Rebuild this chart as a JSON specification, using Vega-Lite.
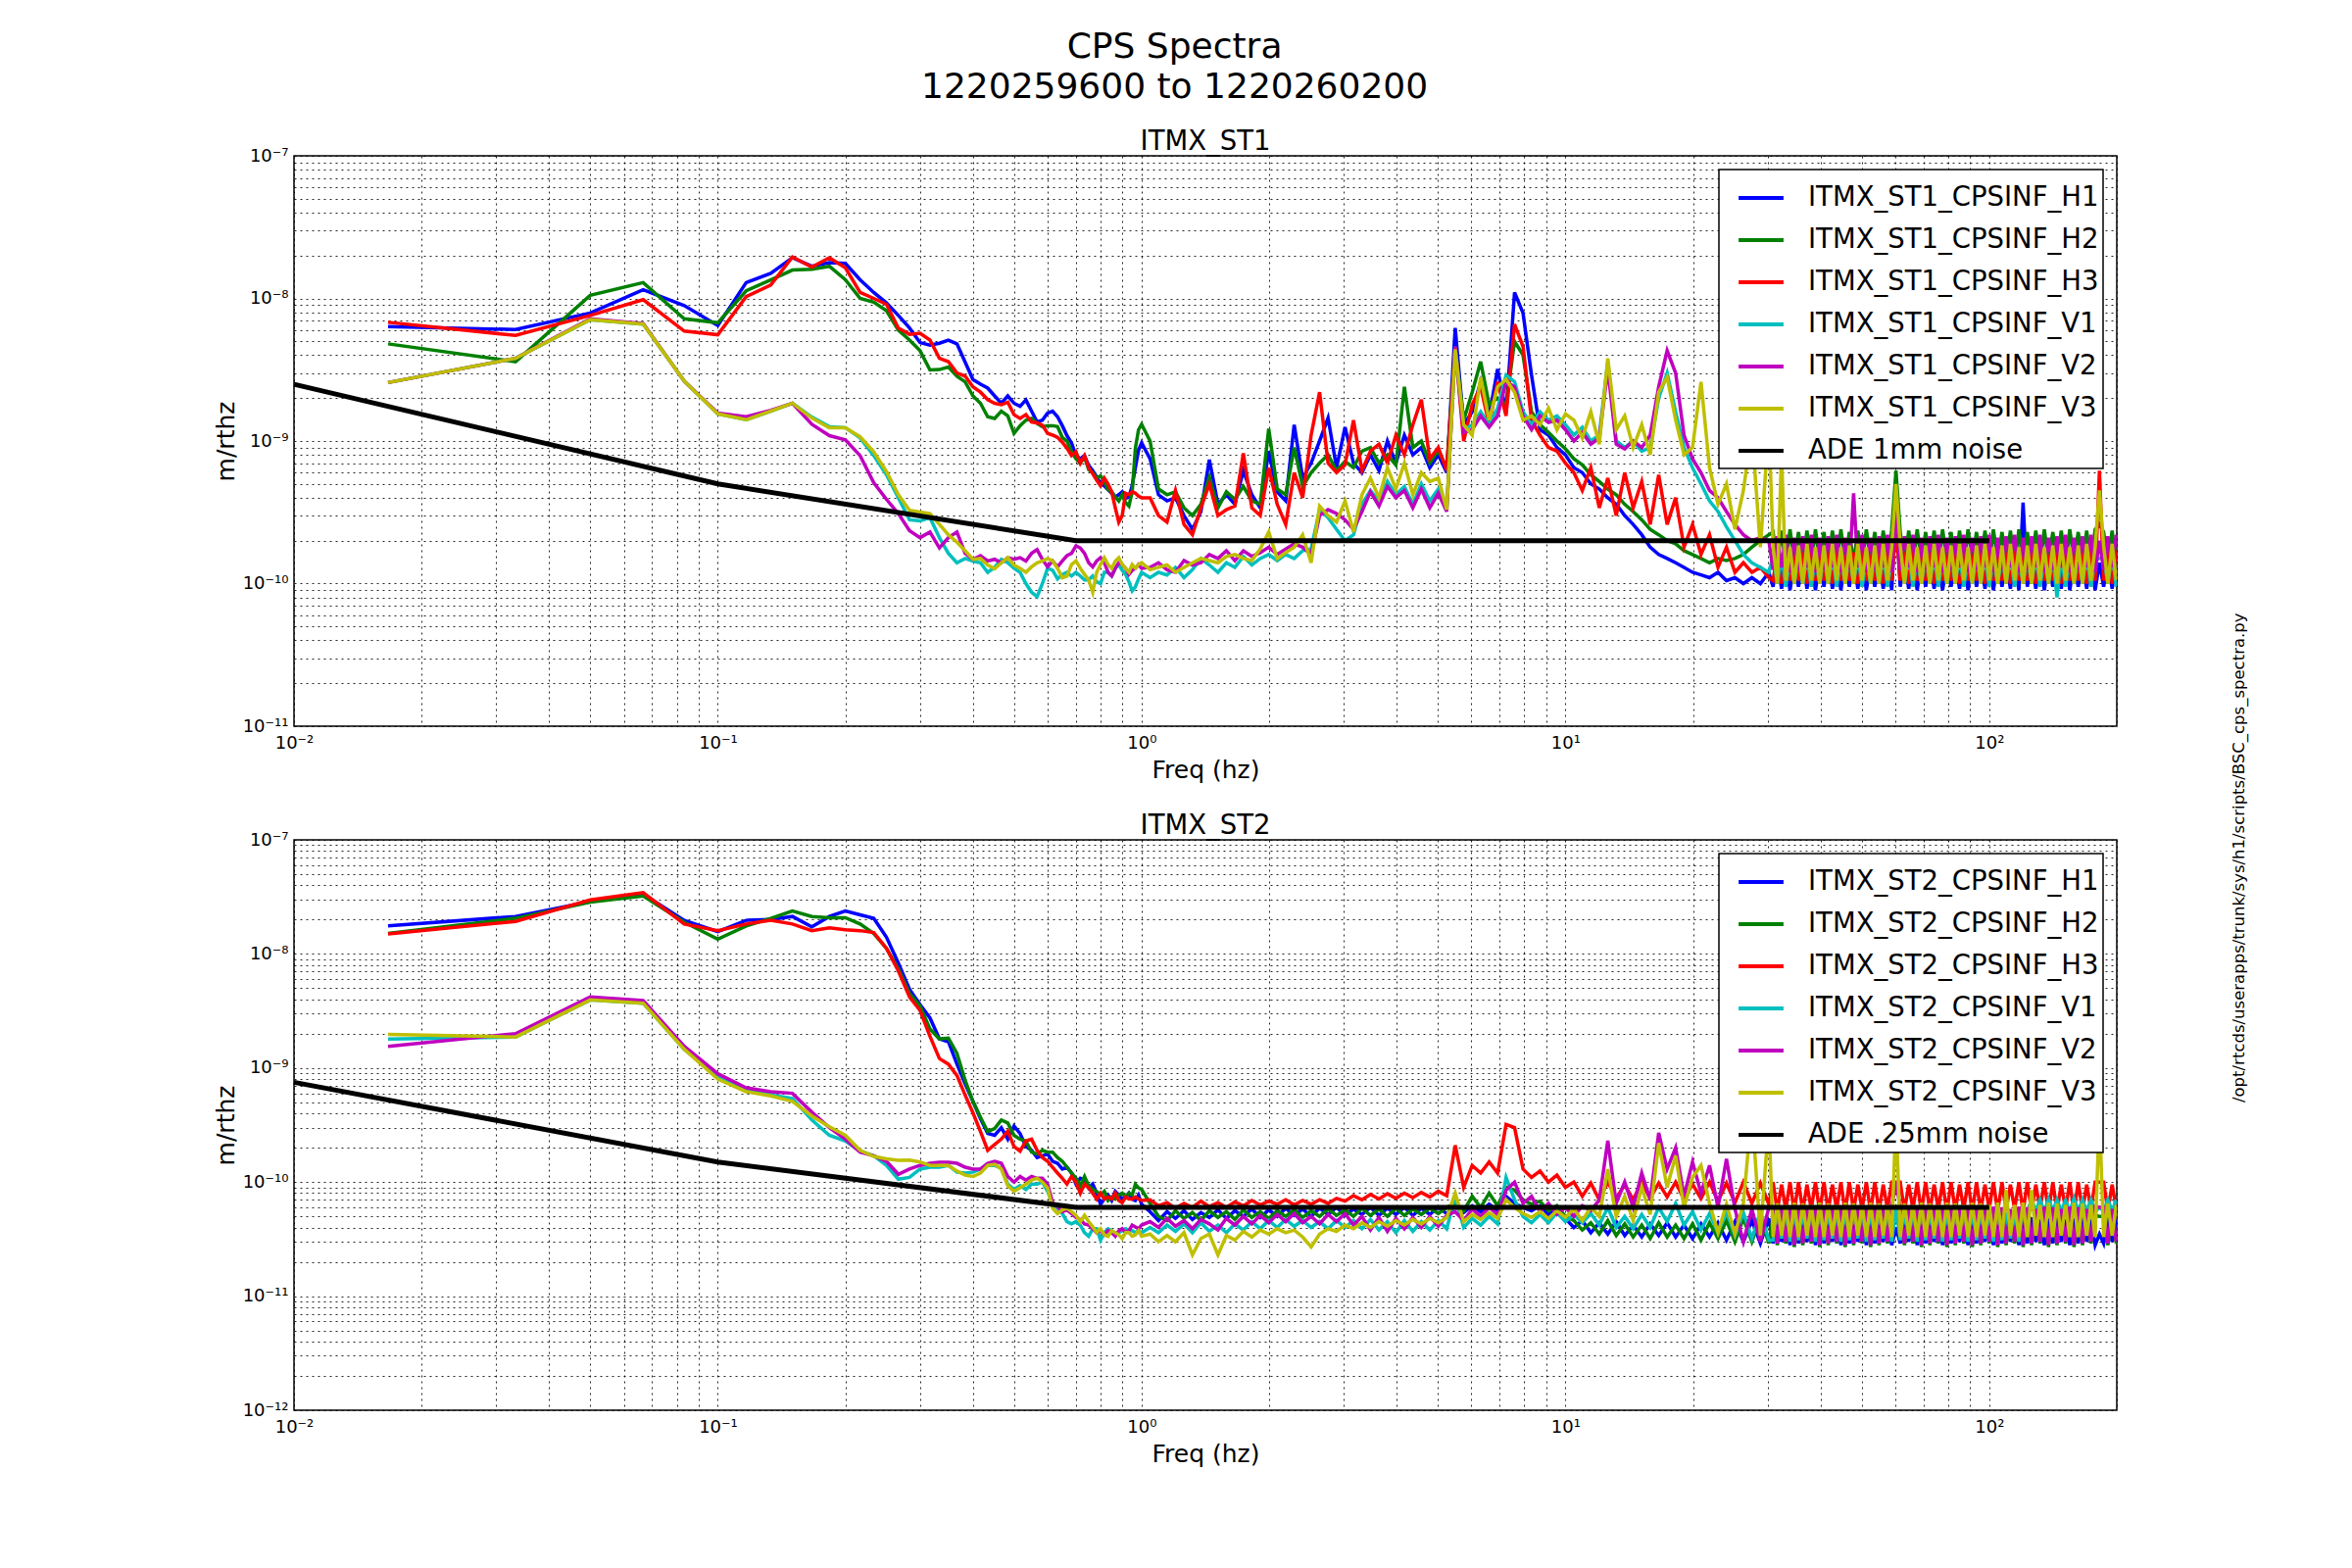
{
  "$schema": "https://vega.github.io/schema/vega-lite/v6.json",
  "background": "white",
  "padding": {"left": 217, "top": 29, "right": 10, "bottom": 10},
  "title": {
    "text": ["CPS Spectra", "1220259600 to 1220260200"],
    "fontSize": 36, "font": "DejaVu Sans", "fontWeight": "normal",
    "anchor": "middle", "lineHeight": 41, "offset": 22, "dx": -57, "color": "black"
  },
  "datasets": {
    "st1": [
      {"f":0.01667,"H1":6.35e-9,"H2":4.8e-9,"H3":6.8e-9,"V1":2.57e-9,"V2":2.57e-9,"V3":2.57e-9},
      {"f":0.03333,"H1":6.05e-9,"H2":3.6e-9,"H3":5.5e-9,"V1":3.8e-9,"V2":3.8e-9,"V3":3.8e-9},
      {"f":0.05,"H1":7.9e-9,"H2":1.05e-8,"H3":7.6e-9,"V1":7.1e-9,"V2":7.2e-9,"V3":7.1e-9},
      {"f":0.06667,"H1":1.15e-8,"H2":1.29e-8,"H3":9.8e-9,"V1":6.6e-9,"V2":6.65e-9,"V3":6.6e-9},
      {"f":0.08333,"H1":8.9e-9,"H2":7.2e-9,"H3":5.9e-9,"V1":2.63e-9,"V2":2.63e-9,"V3":2.63e-9},
      {"f":0.1,"H1":6.45e-9,"H2":6.75e-9,"H3":5.56e-9,"V1":1.55e-9,"V2":1.57e-9,"V3":1.55e-9},
      {"f":0.11667,"H1":1.29e-8,"H2":1.13e-8,"H3":1.03e-8,"V1":1.41e-9,"V2":1.48e-9,"V3":1.41e-9},
      {"f":0.13333,"H1":1.5e-8,"H2":1.35e-8,"H3":1.24e-8,"V1":1.62e-9,"V2":1.64e-9,"V3":1.62e-9},
      {"f":0.15,"H1":1.93e-8,"H2":1.58e-8,"H3":1.95e-8,"V1":1.84e-9,"V2":1.84e-9,"V3":1.84e-9},
      {"f":0.16667,"H1":1.68e-8,"H2":1.6e-8,"H3":1.66e-8,"V1":1.47e-9,"V2":1.31e-9,"V3":1.45e-9},
      {"f":0.18333,"H1":1.78e-8,"H2":1.68e-8,"H3":1.93e-8,"V1":1.26e-9,"V2":1.09e-9,"V3":1.24e-9},
      {"f":0.2,"H1":1.76e-8,"H2":1.35e-8,"H3":1.64e-8,"V1":1.24e-9,"V2":1.02e-9,"V3":1.24e-9},
      {"f":0.21667,"H1":1.35e-8,"H2":1.0e-8,"H3":1.1e-8,"V1":1.05e-9,"V2":7.9e-10,"V3":1.07e-9},
      {"f":0.23333,"H1":1.1e-8,"H2":9.4e-9,"H3":1.0e-8,"V1":7.9e-10,"V2":5.1e-10,"V3":8.4e-10},
      {"f":0.25,"H1":9.3e-9,"H2":8.2e-9,"H3":9.1e-9,"V1":5.8e-10,"V2":3.9e-10,"V3":6.1e-10},
      {"f":0.26667,"H1":7.6e-9,"H2":6.0e-9,"H3":6.2e-9,"V1":4.0e-10,"V2":3.1e-10,"V3":4.2e-10},
      {"f":0.28333,"H1":6.2e-9,"H2":5.1e-9,"H3":5.6e-9,"V1":2.8e-10,"V2":2.35e-10,"V3":3.27e-10},
      {"f":0.3,"H1":4.9e-9,"H2":4.3e-9,"H3":5.7e-9,"V1":2.75e-10,"V2":2.1e-10,"V3":3.18e-10},
      {"f":0.31667,"H1":4.7e-9,"H2":3.15e-9,"H3":5.1e-9,"V1":2.9e-10,"V2":2.3e-10,"V3":3.1e-10},
      {"f":0.33333,"H1":4.85e-9,"H2":3.17e-9,"H3":3.8e-9,"V1":2.1e-10,"V2":1.78e-10,"V3":2.6e-10},
      {"f":0.35,"H1":5.1e-9,"H2":3.3e-9,"H3":3.6e-9,"V1":1.63e-10,"V2":2.1e-10,"V3":2.2e-10},
      {"f":0.36667,"H1":4.8e-9,"H2":2.85e-9,"H3":3.0e-9,"V1":1.4e-10,"V2":2.3e-10,"V3":1.95e-10},
      {"f":0.38333,"H1":3.57e-9,"H2":2.6e-9,"H3":2.85e-9,"V1":1.5e-10,"V2":1.63e-10,"V3":1.7e-10},
      {"f":0.4,"H1":2.7e-9,"H2":2.07e-9,"H3":2.4e-9,"V1":1.44e-10,"V2":1.48e-10,"V3":1.48e-10},
      {"f":0.41667,"H1":2.5e-9,"H2":1.84e-9,"H3":2.2e-9,"V1":1.4e-10,"V2":1.57e-10,"V3":1.5e-10},
      {"f":0.43333,"H1":2.35e-9,"H2":1.48e-9,"H3":1.95e-9,"V1":1.2e-10,"V2":1.44e-10,"V3":1.35e-10},
      {"f":0.45,"H1":2.07e-9,"H2":1.44e-9,"H3":1.84e-9,"V1":1.3e-10,"V2":1.48e-10,"V3":1.27e-10},
      {"f":0.46667,"H1":1.84e-9,"H2":1.62e-9,"H3":1.8e-9,"V1":1.48e-10,"V2":1.4e-10,"V3":1.4e-10},
      {"f":0.48333,"H1":2.07e-9,"H2":1.5e-9,"H3":1.87e-9,"V1":1.4e-10,"V2":1.52e-10,"V3":1.52e-10},
      {"f":0.5,"H1":1.84e-9,"H2":1.13e-9,"H3":1.53e-9,"V1":1.28e-10,"V2":1.48e-10,"V3":1.35e-10},
      {"f":0.51667,"H1":1.75e-9,"H2":1.28e-9,"H3":1.44e-9,"V1":1.2e-10,"V2":1.52e-10,"V3":1.28e-10},
      {"f":0.53333,"H1":1.94e-9,"H2":1.4e-9,"H3":1.53e-9,"V1":1.0e-10,"V2":1.44e-10,"V3":1.2e-10},
      {"f":0.55,"H1":1.62e-9,"H2":1.44e-9,"H3":1.36e-9,"V1":8.7e-11,"V2":1.63e-10,"V3":1.31e-10},
      {"f":0.56667,"H1":1.36e-9,"H2":1.33e-9,"H3":1.34e-9,"V1":8.1e-11,"V2":1.73e-10,"V3":1.4e-10},
      {"f":0.58333,"H1":1.4e-9,"H2":1.26e-9,"H3":1.29e-9,"V1":1.0e-10,"V2":1.48e-10,"V3":1.44e-10},
      {"f":0.6,"H1":1.57e-9,"H2":1.28e-9,"H3":1.13e-9,"V1":1.28e-10,"V2":1.31e-10,"V3":1.5e-10},
      {"f":0.61667,"H1":1.62e-9,"H2":1.28e-9,"H3":1.1e-9,"V1":1.24e-10,"V2":1.44e-10,"V3":1.44e-10},
      {"f":0.63333,"H1":1.48e-9,"H2":1.26e-9,"H3":1.06e-9,"V1":1.08e-10,"V2":1.31e-10,"V3":1.28e-10},
      {"f":0.65,"H1":1.28e-9,"H2":1.06e-9,"H3":9.8e-10,"V1":1.16e-10,"V2":1.44e-10,"V3":1.1e-10},
      {"f":0.66667,"H1":1.09e-9,"H2":1.0e-9,"H3":8.9e-10,"V1":1.2e-10,"V2":1.57e-10,"V3":1.13e-10},
      {"f":0.68333,"H1":9.7e-10,"H2":8.4e-10,"H3":7.9e-10,"V1":1.13e-10,"V2":1.63e-10,"V3":1.36e-10},
      {"f":0.7,"H1":7.9e-10,"H2":7.5e-10,"H3":8.4e-10,"V1":1.2e-10,"V2":1.84e-10,"V3":1.44e-10},
      {"f":0.71667,"H1":7.5e-10,"H2":7.0e-10,"H3":7.0e-10,"V1":1.13e-10,"V2":1.78e-10,"V3":1.28e-10},
      {"f":0.73333,"H1":7.9e-10,"H2":7.7e-10,"H3":7.9e-10,"V1":1.06e-10,"V2":1.63e-10,"V3":1.16e-10},
      {"f":0.75,"H1":6.75e-10,"H2":6.3e-10,"H3":6.5e-10,"V1":1.06e-10,"V2":1.4e-10,"V3":1.06e-10},
      {"f":0.76667,"H1":6.2e-10,"H2":6.0e-10,"H3":5.9e-10,"V1":1.13e-10,"V2":1.31e-10,"V3":8.7e-11},
      {"f":0.78333,"H1":5.6e-10,"H2":5.5e-10,"H3":5.3e-10,"V1":1.03e-10,"V2":1.44e-10,"V3":1.2e-10},
      {"f":0.8,"H1":5.0e-10,"H2":5.7e-10,"H3":4.85e-10,"V1":1.0e-10,"V2":1.52e-10,"V3":1.36e-10},
      {"f":0.81667,"H1":4.85e-10,"H2":5.2e-10,"H3":5.5e-10,"V1":1.2e-10,"V2":1.4e-10,"V3":1.52e-10},
      {"f":0.83333,"H1":4.55e-10,"H2":4.55e-10,"H3":5.0e-10,"V1":1.2e-10,"V2":1.2e-10,"V3":1.36e-10},
      {"f":0.85,"H1":4.3e-10,"H2":4.4e-10,"H3":4.4e-10,"V1":1.13e-10,"V2":1.13e-10,"V3":1.28e-10},
      {"f":0.86667,"H1":4.05e-10,"H2":4.05e-10,"H3":3.4e-10,"V1":1.28e-10,"V2":1.28e-10,"V3":1.44e-10},
      {"f":0.88333,"H1":4.2e-10,"H2":3.8e-10,"H3":2.7e-10,"V1":1.36e-10,"V2":1.4e-10,"V3":1.52e-10},
      {"f":0.9,"H1":4.4e-10,"H2":4.2e-10,"H3":3.0e-10,"V1":1.24e-10,"V2":1.36e-10,"V3":1.36e-10},
      {"f":0.91667,"H1":3.95e-10,"H2":3.7e-10,"H3":4.3e-10,"V1":1.16e-10,"V2":1.28e-10,"V3":1.28e-10},
      {"f":0.93333,"H1":4.05e-10,"H2":3.5e-10,"H3":4.2e-10,"V1":1.03e-10,"V2":1.16e-10,"V3":1.2e-10},
      {"f":0.95,"H1":4.85e-10,"H2":4.4e-10,"H3":4.4e-10,"V1":8.9e-11,"V2":1.24e-10,"V3":1.36e-10},
      {"f":0.96667,"H1":6.5e-10,"H2":8.9e-10,"H3":4.3e-10,"V1":9.5e-11,"V2":1.28e-10,"V3":1.28e-10},
      {"f":0.98333,"H1":8.6e-10,"H2":1.2e-9,"H3":4.1e-10,"V1":1.08e-10,"V2":1.36e-10,"V3":1.36e-10},
      {"f":1.0,"H1":9.7e-10,"H2":1.31e-9,"H3":4.0e-10,"V1":1.2e-10,"V2":1.28e-10,"V3":1.4e-10},
      {"f":1.047,"H1":7.5e-10,"H2":1.0e-9,"H3":4.0e-10,"V1":1.1e-10,"V2":1.3e-10,"V3":1.25e-10},
      {"f":1.096,"H1":4.2e-10,"H2":4.6e-10,"H3":3.0e-10,"V1":1.2e-10,"V2":1.4e-10,"V3":1.3e-10},
      {"f":1.148,"H1":3.8e-10,"H2":4.2e-10,"H3":2.7e-10,"V1":1.15e-10,"V2":1.25e-10,"V3":1.35e-10},
      {"f":1.202,"H1":4.0e-10,"H2":4.4e-10,"H3":4.5e-10,"V1":1.3e-10,"V2":1.2e-10,"V3":1.2e-10},
      {"f":1.259,"H1":3.0e-10,"H2":3.4e-10,"H3":2.6e-10,"V1":1.1e-10,"V2":1.45e-10,"V3":1.3e-10},
      {"f":1.318,"H1":2.4e-10,"H2":3.0e-10,"H3":2.2e-10,"V1":1.25e-10,"V2":1.35e-10,"V3":1.4e-10},
      {"f":1.38,"H1":3.2e-10,"H2":3.6e-10,"H3":3.4e-10,"V1":1.5e-10,"V2":1.4e-10,"V3":1.5e-10},
      {"f":1.445,"H1":7.4e-10,"H2":5.6e-10,"H3":5.0e-10,"V1":1.35e-10,"V2":1.6e-10,"V3":1.45e-10},
      {"f":1.514,"H1":3.6e-10,"H2":3.4e-10,"H3":3.0e-10,"V1":1.2e-10,"V2":1.5e-10,"V3":1.4e-10},
      {"f":1.585,"H1":4.2e-10,"H2":4.4e-10,"H3":3.3e-10,"V1":1.4e-10,"V2":1.7e-10,"V3":1.55e-10},
      {"f":1.66,"H1":3.6e-10,"H2":3.9e-10,"H3":3.5e-10,"V1":1.3e-10,"V2":1.45e-10,"V3":1.6e-10},
      {"f":1.738,"H1":6.2e-10,"H2":4.8e-10,"H3":8.2e-10,"V1":1.55e-10,"V2":1.7e-10,"V3":1.5e-10},
      {"f":1.82,"H1":4.2e-10,"H2":3.8e-10,"H3":3.4e-10,"V1":1.35e-10,"V2":1.55e-10,"V3":1.45e-10},
      {"f":1.905,"H1":3.4e-10,"H2":3.6e-10,"H3":3.0e-10,"V1":1.5e-10,"V2":1.65e-10,"V3":1.75e-10},
      {"f":1.995,"H1":8.5e-10,"H2":1.22e-9,"H3":6.5e-10,"V1":1.6e-10,"V2":1.8e-10,"V3":2.3e-10},
      {"f":2.089,"H1":4.4e-10,"H2":4.6e-10,"H3":3.6e-10,"V1":1.45e-10,"V2":1.6e-10,"V3":1.5e-10},
      {"f":2.188,"H1":3.8e-10,"H2":4.2e-10,"H3":2.6e-10,"V1":1.6e-10,"V2":1.75e-10,"V3":1.65e-10},
      {"f":2.291,"H1":1.3e-9,"H2":9.0e-10,"H3":6.0e-10,"V1":1.5e-10,"V2":1.9e-10,"V3":1.8e-10},
      {"f":2.399,"H1":5.5e-10,"H2":4.8e-10,"H3":4.0e-10,"V1":1.7e-10,"V2":1.8e-10,"V3":2.2e-10},
      {"f":2.512,"H1":7.0e-10,"H2":6.0e-10,"H3":1.1e-9,"V1":1.75e-10,"V2":1.6e-10,"V3":1.4e-10},
      {"f":2.63,"H1":1.0e-9,"H2":7.0e-10,"H3":2.2e-9,"V1":3.3e-10,"V2":3.0e-10,"V3":3.5e-10},
      {"f":2.754,"H1":1.45e-9,"H2":8.0e-10,"H3":7.0e-10,"V1":2.9e-10,"V2":3.3e-10,"V3":3.0e-10},
      {"f":2.884,"H1":6.5e-10,"H2":6.2e-10,"H3":6.0e-10,"V1":2.4e-10,"V2":3.1e-10,"V3":2.7e-10},
      {"f":3.02,"H1":1.25e-9,"H2":7.2e-10,"H3":6.8e-10,"V1":2.0e-10,"V2":2.8e-10,"V3":3.8e-10},
      {"f":3.162,"H1":7.0e-10,"H2":6.5e-10,"H3":1.4e-9,"V1":2.2e-10,"V2":2.4e-10,"V3":2.3e-10},
      {"f":3.311,"H1":6.0e-10,"H2":8.5e-10,"H3":6.2e-10,"V1":3.6e-10,"V2":3.2e-10,"V3":4.2e-10},
      {"f":3.467,"H1":8.0e-10,"H2":9.0e-10,"H3":8.5e-10,"V1":4.5e-10,"V2":4.4e-10,"V3":5.5e-10},
      {"f":3.631,"H1":6.2e-10,"H2":7.0e-10,"H3":9.5e-10,"V1":3.8e-10,"V2":3.5e-10,"V3":4.0e-10},
      {"f":3.802,"H1":1.0e-9,"H2":8.0e-10,"H3":7.0e-10,"V1":5.2e-10,"V2":4.8e-10,"V3":6.5e-10},
      {"f":3.981,"H1":7.0e-10,"H2":6.8e-10,"H3":1.1e-9,"V1":4.2e-10,"V2":4.0e-10,"V3":4.6e-10},
      {"f":4.169,"H1":1.1e-9,"H2":2.4e-9,"H3":8.0e-10,"V1":4.8e-10,"V2":4.5e-10,"V3":7.0e-10},
      {"f":4.365,"H1":8.0e-10,"H2":9.0e-10,"H3":1.3e-9,"V1":3.6e-10,"V2":3.4e-10,"V3":4.2e-10},
      {"f":4.571,"H1":9.0e-10,"H2":1.0e-9,"H3":1.95e-9,"V1":5.0e-10,"V2":4.6e-10,"V3":6.0e-10},
      {"f":4.786,"H1":6.5e-10,"H2":7.0e-10,"H3":7.5e-10,"V1":3.8e-10,"V2":3.4e-10,"V3":5.2e-10},
      {"f":5.012,"H1":8.0e-10,"H2":8.6e-10,"H3":9.0e-10,"V1":4.6e-10,"V2":4.3e-10,"V3":5.5e-10},
      {"f":5.248,"H1":6.0e-10,"H2":6.5e-10,"H3":6.2e-10,"V1":3.4e-10,"V2":3.2e-10,"V3":3.3e-10},
      {"f":5.495,"H1":6.2e-9,"H2":4.6e-9,"H3":4.5e-9,"V1":4.4e-9,"V2":4.6e-9,"V3":4.4e-9},
      {"f":5.754,"H1":1.3e-9,"H2":1.4e-9,"H3":1.0e-9,"V1":1.2e-9,"V2":1.15e-9,"V3":1.3e-9},
      {"f":6.026,"H1":1.6e-9,"H2":2.2e-9,"H3":1.8e-9,"V1":1.3e-9,"V2":1.2e-9,"V3":1.1e-9},
      {"f":6.31,"H1":2.6e-9,"H2":3.6e-9,"H3":2.4e-9,"V1":1.6e-9,"V2":1.5e-9,"V3":2.8e-9},
      {"f":6.607,"H1":1.5e-9,"H2":1.8e-9,"H3":1.3e-9,"V1":1.3e-9,"V2":1.25e-9,"V3":1.4e-9},
      {"f":6.918,"H1":3.2e-9,"H2":2.0e-9,"H3":2.6e-9,"V1":1.7e-9,"V2":1.5e-9,"V3":2.4e-9},
      {"f":7.244,"H1":1.6e-9,"H2":1.8e-9,"H3":1.5e-9,"V1":2.9e-9,"V2":2.6e-9,"V3":2.7e-9},
      {"f":7.586,"H1":1.1e-8,"H2":5.0e-9,"H3":6.6e-9,"V1":2.6e-9,"V2":2.4e-9,"V3":2.2e-9},
      {"f":7.943,"H1":7.9e-9,"H2":4.0e-9,"H3":4.6e-9,"V1":1.6e-9,"V2":1.5e-9,"V3":1.4e-9},
      {"f":8.318,"H1":2.9e-9,"H2":1.6e-9,"H3":1.4e-9,"V1":1.3e-9,"V2":1.2e-9,"V3":1.5e-9},
      {"f":8.71,"H1":1.2e-9,"H2":1.3e-9,"H3":1.1e-9,"V1":1.6e-9,"V2":1.5e-9,"V3":1.3e-9},
      {"f":9.12,"H1":1.1e-9,"H2":1.15e-9,"H3":9.0e-10,"V1":1.4e-9,"V2":1.35e-9,"V3":1.7e-9},
      {"f":9.55,"H1":9.0e-10,"H2":1.0e-9,"H3":8.5e-10,"V1":1.5e-9,"V2":1.4e-9,"V3":1.2e-9},
      {"f":10.0,"H1":8.0e-10,"H2":8.8e-10,"H3":7.0e-10,"V1":1.3e-9,"V2":1.2e-9,"V3":1.55e-9},
      {"f":10.47,"H1":6.5e-10,"H2":7.5e-10,"H3":6.0e-10,"V1":1.1e-9,"V2":1.0e-9,"V3":1.4e-9},
      {"f":10.96,"H1":6.0e-10,"H2":6.8e-10,"H3":4.5e-10,"V1":1.25e-9,"V2":1.15e-9,"V3":1.05e-9},
      {"f":11.48,"H1":5.0e-10,"H2":5.8e-10,"H3":6.5e-10,"V1":1.0e-9,"V2":9.5e-10,"V3":1.6e-9},
      {"f":12.02,"H1":4.6e-10,"H2":5.2e-10,"H3":3.4e-10,"V1":1.1e-9,"V2":1.05e-9,"V3":9.5e-10},
      {"f":12.59,"H1":4.0e-10,"H2":4.6e-10,"H3":5.5e-10,"V1":3.6e-9,"V2":3.2e-9,"V3":3.8e-9},
      {"f":13.18,"H1":3.6e-10,"H2":4.2e-10,"H3":3.0e-10,"V1":1.0e-9,"V2":9.5e-10,"V3":1.2e-9},
      {"f":13.8,"H1":3.0e-10,"H2":3.6e-10,"H3":6.0e-10,"V1":9.0e-10,"V2":8.8e-10,"V3":1.5e-9},
      {"f":14.45,"H1":2.6e-10,"H2":3.2e-10,"H3":3.4e-10,"V1":1.0e-9,"V2":1.0e-9,"V3":9.0e-10},
      {"f":15.14,"H1":2.2e-10,"H2":2.8e-10,"H3":5.2e-10,"V1":8.5e-10,"V2":9.0e-10,"V3":1.3e-9},
      {"f":15.85,"H1":1.8e-10,"H2":2.4e-10,"H3":2.6e-10,"V1":9.0e-10,"V2":1.1e-9,"V3":8.0e-10},
      {"f":16.6,"H1":1.6e-10,"H2":2.2e-10,"H3":5.8e-10,"V1":2.0e-9,"V2":2.4e-9,"V3":2.2e-9},
      {"f":17.38,"H1":1.5e-10,"H2":2.0e-10,"H3":2.6e-10,"V1":3.0e-9,"V2":4.3e-9,"V3":2.8e-9},
      {"f":18.2,"H1":1.4e-10,"H2":1.9e-10,"H3":4.0e-10,"V1":1.6e-9,"V2":3.0e-9,"V3":1.4e-9},
      {"f":19.05,"H1":1.3e-10,"H2":1.7e-10,"H3":1.8e-10,"V1":9.0e-10,"V2":1.1e-9,"V3":8.0e-10},
      {"f":19.95,"H1":1.2e-10,"H2":1.6e-10,"H3":2.6e-10,"V1":6.5e-10,"V2":7.5e-10,"V3":9.0e-10},
      {"f":20.89,"H1":1.15e-10,"H2":1.5e-10,"H3":1.6e-10,"V1":5.0e-10,"V2":6.0e-10,"V3":2.6e-9},
      {"f":21.88,"H1":1.1e-10,"H2":1.4e-10,"H3":2.2e-10,"V1":3.8e-10,"V2":4.5e-10,"V3":6.5e-10},
      {"f":22.91,"H1":1.2e-10,"H2":1.5e-10,"H3":1.3e-10,"V1":3.2e-10,"V2":4.0e-10,"V3":3.6e-10},
      {"f":23.99,"H1":1.05e-10,"H2":1.45e-10,"H3":1.8e-10,"V1":2.5e-10,"V2":3.2e-10,"V3":5.0e-10},
      {"f":25.12,"H1":1.1e-10,"H2":1.5e-10,"H3":1.2e-10,"V1":2.0e-10,"V2":2.6e-10,"V3":2.4e-10},
      {"f":26.3,"H1":1.0e-10,"H2":1.6e-10,"H3":1.4e-10,"V1":1.6e-10,"V2":2.2e-10,"V3":4.5e-10},
      {"f":27.54,"H1":1.1e-10,"H2":1.8e-10,"H3":1.2e-10,"V1":1.4e-10,"V2":2.0e-10,"V3":1.2e-9},
      {"f":28.84,"H1":1.0e-10,"H2":2.0e-10,"H3":1.3e-10,"V1":1.3e-10,"V2":2.1e-10,"V3":1.8e-10},
      {"f":30.2,"H1":1.2e-10,"H2":2.2e-10,"H3":1.1e-10,"V1":1.2e-10,"V2":2.0e-10,"V3":1.3e-9},
      {"f":30.9,"H1":9.5e-11,"H2":2.3e-10,"H3":1.05e-10,"V1":1.55e-10,"V2":1.25e-10,"V3":1.85e-10},
      {"f":31.62,"H1":1.45e-10,"H2":1.4e-10,"H3":1.65e-10,"V1":1.0e-10,"V2":2.15e-10,"V3":1.0e-10},
      {"f":32.36,"H1":9.2e-11,"H2":2.35e-10,"H3":1.0e-10,"V1":1.6e-10,"V2":1.3e-10,"V3":8.0e-10},
      {"f":33.11,"H1":1.5e-10,"H2":1.35e-10,"H3":1.7e-10,"V1":9.5e-11,"V2":2.2e-10,"V3":1.05e-10},
      {"f":33.88,"H1":9.0e-11,"H2":2.4e-10,"H3":1.05e-10,"V1":1.5e-10,"V2":1.2e-10,"V3":1.8e-10},
      {"f":34.67,"H1":1.4e-10,"H2":1.45e-10,"H3":1.6e-10,"V1":1.0e-10,"V2":2.1e-10,"V3":1.0e-10},
      {"f":35.48,"H1":9.5e-11,"H2":2.3e-10,"H3":1.05e-10,"V1":1.55e-10,"V2":1.25e-10,"V3":1.85e-10},
      {"f":36.31,"H1":1.45e-10,"H2":1.4e-10,"H3":1.65e-10,"V1":1.0e-10,"V2":2.15e-10,"V3":1.0e-10},
      {"f":37.15,"H1":9.2e-11,"H2":2.35e-10,"H3":1.0e-10,"V1":1.6e-10,"V2":1.3e-10,"V3":1.9e-10},
      {"f":38.02,"H1":1.5e-10,"H2":1.35e-10,"H3":1.7e-10,"V1":9.5e-11,"V2":2.2e-10,"V3":1.05e-10},
      {"f":38.9,"H1":9.0e-11,"H2":2.4e-10,"H3":1.05e-10,"V1":1.5e-10,"V2":1.2e-10,"V3":1.8e-10},
      {"f":39.81,"H1":1.4e-10,"H2":1.45e-10,"H3":1.6e-10,"V1":1.0e-10,"V2":2.1e-10,"V3":1.0e-10},
      {"f":40.74,"H1":9.5e-11,"H2":2.3e-10,"H3":1.05e-10,"V1":1.55e-10,"V2":1.25e-10,"V3":1.85e-10},
      {"f":41.69,"H1":1.45e-10,"H2":1.4e-10,"H3":1.65e-10,"V1":1.0e-10,"V2":2.15e-10,"V3":1.0e-10},
      {"f":42.66,"H1":9.2e-11,"H2":2.35e-10,"H3":1.0e-10,"V1":1.6e-10,"V2":1.3e-10,"V3":1.9e-10},
      {"f":43.65,"H1":1.5e-10,"H2":1.35e-10,"H3":1.7e-10,"V1":9.5e-11,"V2":2.2e-10,"V3":1.05e-10},
      {"f":44.67,"H1":9.0e-11,"H2":2.4e-10,"H3":1.05e-10,"V1":1.5e-10,"V2":1.2e-10,"V3":1.8e-10},
      {"f":45.71,"H1":1.4e-10,"H2":1.45e-10,"H3":1.6e-10,"V1":1.0e-10,"V2":2.1e-10,"V3":1.0e-10},
      {"f":46.77,"H1":9.5e-11,"H2":2.3e-10,"H3":1.05e-10,"V1":1.55e-10,"V2":1.25e-10,"V3":1.85e-10},
      {"f":47.86,"H1":1.45e-10,"H2":1.4e-10,"H3":1.65e-10,"V1":1.0e-10,"V2":4.3e-10,"V3":1.0e-10},
      {"f":48.98,"H1":9.2e-11,"H2":2.35e-10,"H3":1.0e-10,"V1":1.6e-10,"V2":1.3e-10,"V3":1.9e-10},
      {"f":50.12,"H1":1.5e-10,"H2":1.35e-10,"H3":1.7e-10,"V1":9.5e-11,"V2":2.2e-10,"V3":1.05e-10},
      {"f":51.29,"H1":9.0e-11,"H2":2.4e-10,"H3":1.05e-10,"V1":1.5e-10,"V2":1.2e-10,"V3":1.8e-10},
      {"f":52.48,"H1":1.4e-10,"H2":1.45e-10,"H3":1.6e-10,"V1":1.0e-10,"V2":2.1e-10,"V3":1.0e-10},
      {"f":53.7,"H1":9.5e-11,"H2":2.3e-10,"H3":1.05e-10,"V1":1.55e-10,"V2":1.25e-10,"V3":1.85e-10},
      {"f":54.95,"H1":1.45e-10,"H2":1.4e-10,"H3":1.65e-10,"V1":1.0e-10,"V2":2.15e-10,"V3":1.0e-10},
      {"f":56.23,"H1":9.2e-11,"H2":2.35e-10,"H3":1.0e-10,"V1":1.6e-10,"V2":1.3e-10,"V3":1.9e-10},
      {"f":57.54,"H1":1.5e-10,"H2":1.35e-10,"H3":1.7e-10,"V1":9.5e-11,"V2":2.2e-10,"V3":1.05e-10},
      {"f":58.88,"H1":9.0e-11,"H2":2.4e-10,"H3":1.05e-10,"V1":1.5e-10,"V2":1.2e-10,"V3":1.8e-10},
      {"f":60.26,"H1":3.2e-10,"H2":6.2e-10,"H3":2.5e-10,"V1":3.0e-10,"V2":3.5e-10,"V3":5.0e-10},
      {"f":61.66,"H1":9.5e-11,"H2":2.3e-10,"H3":1.05e-10,"V1":1.55e-10,"V2":1.25e-10,"V3":1.85e-10},
      {"f":63.1,"H1":1.45e-10,"H2":1.4e-10,"H3":1.65e-10,"V1":1.0e-10,"V2":2.15e-10,"V3":1.0e-10},
      {"f":64.57,"H1":9.2e-11,"H2":2.35e-10,"H3":1.0e-10,"V1":1.6e-10,"V2":1.3e-10,"V3":1.9e-10},
      {"f":66.07,"H1":1.5e-10,"H2":1.35e-10,"H3":1.7e-10,"V1":9.5e-11,"V2":2.2e-10,"V3":1.05e-10},
      {"f":67.61,"H1":9.0e-11,"H2":2.4e-10,"H3":1.05e-10,"V1":1.5e-10,"V2":1.2e-10,"V3":1.8e-10},
      {"f":69.18,"H1":1.4e-10,"H2":1.45e-10,"H3":1.6e-10,"V1":1.0e-10,"V2":2.1e-10,"V3":1.0e-10},
      {"f":70.79,"H1":9.5e-11,"H2":2.3e-10,"H3":1.05e-10,"V1":1.55e-10,"V2":1.25e-10,"V3":1.85e-10},
      {"f":72.44,"H1":1.45e-10,"H2":1.4e-10,"H3":1.65e-10,"V1":1.0e-10,"V2":2.15e-10,"V3":1.0e-10},
      {"f":74.13,"H1":9.2e-11,"H2":2.35e-10,"H3":1.0e-10,"V1":1.6e-10,"V2":1.3e-10,"V3":1.9e-10},
      {"f":75.86,"H1":1.5e-10,"H2":1.35e-10,"H3":1.7e-10,"V1":9.5e-11,"V2":2.2e-10,"V3":1.05e-10},
      {"f":77.62,"H1":9.0e-11,"H2":2.4e-10,"H3":1.05e-10,"V1":1.5e-10,"V2":1.2e-10,"V3":1.8e-10},
      {"f":79.43,"H1":1.4e-10,"H2":1.45e-10,"H3":1.6e-10,"V1":1.0e-10,"V2":2.1e-10,"V3":1.0e-10},
      {"f":81.28,"H1":9.5e-11,"H2":2.3e-10,"H3":1.05e-10,"V1":1.55e-10,"V2":1.25e-10,"V3":1.85e-10},
      {"f":83.18,"H1":1.45e-10,"H2":1.4e-10,"H3":1.65e-10,"V1":1.0e-10,"V2":2.15e-10,"V3":1.0e-10},
      {"f":85.11,"H1":9.2e-11,"H2":2.35e-10,"H3":1.0e-10,"V1":1.6e-10,"V2":1.3e-10,"V3":1.9e-10},
      {"f":87.1,"H1":1.5e-10,"H2":1.35e-10,"H3":1.7e-10,"V1":9.5e-11,"V2":2.2e-10,"V3":1.05e-10},
      {"f":89.13,"H1":9.0e-11,"H2":2.4e-10,"H3":1.05e-10,"V1":1.5e-10,"V2":1.2e-10,"V3":1.8e-10},
      {"f":91.2,"H1":1.4e-10,"H2":1.45e-10,"H3":1.6e-10,"V1":1.0e-10,"V2":2.1e-10,"V3":1.0e-10},
      {"f":93.33,"H1":9.5e-11,"H2":2.3e-10,"H3":1.05e-10,"V1":1.55e-10,"V2":1.25e-10,"V3":1.85e-10},
      {"f":95.5,"H1":1.45e-10,"H2":1.4e-10,"H3":1.65e-10,"V1":1.0e-10,"V2":2.15e-10,"V3":1.0e-10},
      {"f":97.72,"H1":9.2e-11,"H2":2.35e-10,"H3":1.0e-10,"V1":1.6e-10,"V2":1.3e-10,"V3":1.9e-10},
      {"f":100.0,"H1":1.5e-10,"H2":1.35e-10,"H3":1.7e-10,"V1":9.5e-11,"V2":2.2e-10,"V3":1.05e-10},
      {"f":102.3,"H1":9.0e-11,"H2":2.4e-10,"H3":1.05e-10,"V1":1.5e-10,"V2":1.2e-10,"V3":1.8e-10},
      {"f":104.7,"H1":1.4e-10,"H2":1.45e-10,"H3":1.6e-10,"V1":1.0e-10,"V2":2.1e-10,"V3":1.0e-10},
      {"f":107.2,"H1":9.5e-11,"H2":2.3e-10,"H3":1.05e-10,"V1":1.55e-10,"V2":1.25e-10,"V3":1.85e-10},
      {"f":109.6,"H1":1.45e-10,"H2":1.4e-10,"H3":1.65e-10,"V1":1.0e-10,"V2":2.15e-10,"V3":1.0e-10},
      {"f":112.2,"H1":9.2e-11,"H2":2.35e-10,"H3":1.0e-10,"V1":1.6e-10,"V2":1.3e-10,"V3":1.9e-10},
      {"f":114.8,"H1":1.5e-10,"H2":1.35e-10,"H3":1.7e-10,"V1":9.5e-11,"V2":2.2e-10,"V3":1.05e-10},
      {"f":117.5,"H1":9.0e-11,"H2":2.4e-10,"H3":1.05e-10,"V1":1.5e-10,"V2":1.2e-10,"V3":1.8e-10},
      {"f":120.2,"H1":3.7e-10,"H2":1.45e-10,"H3":1.6e-10,"V1":1.0e-10,"V2":2.1e-10,"V3":1.0e-10},
      {"f":123.0,"H1":9.5e-11,"H2":2.3e-10,"H3":1.05e-10,"V1":1.55e-10,"V2":1.25e-10,"V3":1.85e-10},
      {"f":125.9,"H1":1.45e-10,"H2":1.4e-10,"H3":1.65e-10,"V1":1.0e-10,"V2":2.15e-10,"V3":1.0e-10},
      {"f":128.8,"H1":9.2e-11,"H2":2.35e-10,"H3":1.0e-10,"V1":1.6e-10,"V2":1.3e-10,"V3":1.9e-10},
      {"f":131.8,"H1":1.5e-10,"H2":1.35e-10,"H3":1.7e-10,"V1":9.5e-11,"V2":2.2e-10,"V3":1.05e-10},
      {"f":134.9,"H1":9.0e-11,"H2":2.4e-10,"H3":1.05e-10,"V1":1.5e-10,"V2":1.2e-10,"V3":1.8e-10},
      {"f":138.0,"H1":1.4e-10,"H2":1.45e-10,"H3":1.6e-10,"V1":1.0e-10,"V2":2.1e-10,"V3":1.0e-10},
      {"f":141.3,"H1":9.5e-11,"H2":2.3e-10,"H3":1.05e-10,"V1":1.55e-10,"V2":1.25e-10,"V3":1.85e-10},
      {"f":144.5,"H1":1.45e-10,"H2":1.4e-10,"H3":1.65e-10,"V1":8.0e-11,"V2":2.15e-10,"V3":1.0e-10},
      {"f":147.9,"H1":9.2e-11,"H2":2.35e-10,"H3":1.0e-10,"V1":1.6e-10,"V2":1.3e-10,"V3":1.9e-10},
      {"f":151.4,"H1":1.5e-10,"H2":1.35e-10,"H3":1.7e-10,"V1":9.5e-11,"V2":2.2e-10,"V3":1.05e-10},
      {"f":154.9,"H1":9.0e-11,"H2":2.4e-10,"H3":1.05e-10,"V1":1.5e-10,"V2":1.2e-10,"V3":1.8e-10},
      {"f":158.5,"H1":1.4e-10,"H2":1.45e-10,"H3":1.6e-10,"V1":1.0e-10,"V2":2.1e-10,"V3":1.0e-10},
      {"f":162.2,"H1":9.5e-11,"H2":2.3e-10,"H3":1.05e-10,"V1":1.55e-10,"V2":1.25e-10,"V3":1.85e-10},
      {"f":166.0,"H1":1.45e-10,"H2":1.4e-10,"H3":1.65e-10,"V1":1.0e-10,"V2":2.15e-10,"V3":1.0e-10},
      {"f":169.8,"H1":9.2e-11,"H2":2.35e-10,"H3":1.0e-10,"V1":1.6e-10,"V2":1.3e-10,"V3":1.9e-10},
      {"f":173.8,"H1":1.5e-10,"H2":1.35e-10,"H3":1.7e-10,"V1":9.5e-11,"V2":2.2e-10,"V3":1.05e-10},
      {"f":177.8,"H1":9.0e-11,"H2":2.4e-10,"H3":1.05e-10,"V1":1.5e-10,"V2":1.2e-10,"V3":1.8e-10},
      {"f":182.0,"H1":1.4e-10,"H2":2.6e-10,"H3":6.2e-10,"V1":1.5e-10,"V2":2.0e-10,"V3":4.5e-10},
      {"f":186.2,"H1":9.5e-11,"H2":2.3e-10,"H3":1.05e-10,"V1":1.55e-10,"V2":1.25e-10,"V3":1.85e-10},
      {"f":190.5,"H1":1.45e-10,"H2":1.4e-10,"H3":1.65e-10,"V1":1.0e-10,"V2":2.15e-10,"V3":1.0e-10},
      {"f":195.0,"H1":9.2e-11,"H2":2.35e-10,"H3":1.0e-10,"V1":1.6e-10,"V2":1.3e-10,"V3":1.9e-10},
      {"f":199.5,"H1":1.5e-10,"H2":1.35e-10,"H3":1.7e-10,"V1":9.5e-11,"V2":2.2e-10,"V3":1.05e-10}
    ],
    "st2": [
      {"f":0.01667,"H1":1.76e-8,"H2":1.51e-8,"H3":1.5e-8,"V1":1.79e-9,"V2":1.55e-9,"V3":1.97e-9},
      {"f":0.03333,"H1":2.13e-8,"H2":2.05e-8,"H3":1.93e-8,"V1":1.87e-9,"V2":2.0e-9,"V3":1.87e-9},
      {"f":0.05,"H1":2.88e-8,"H2":2.85e-8,"H3":2.98e-8,"V1":3.95e-9,"V2":4.2e-9,"V3":3.95e-9},
      {"f":0.06667,"H1":3.35e-8,"H2":3.22e-8,"H3":3.45e-8,"V1":3.7e-9,"V2":3.9e-9,"V3":3.7e-9},
      {"f":0.08333,"H1":1.97e-8,"H2":1.9e-8,"H3":1.83e-8,"V1":1.46e-9,"V2":1.55e-9,"V3":1.46e-9},
      {"f":0.1,"H1":1.57e-8,"H2":1.35e-8,"H3":1.6e-8,"V1":8.6e-10,"V2":8.9e-10,"V3":8.0e-10},
      {"f":0.11667,"H1":1.97e-8,"H2":1.76e-8,"H3":1.83e-8,"V1":6.4e-10,"V2":6.7e-10,"V3":6.2e-10},
      {"f":0.13333,"H1":2.0e-8,"H2":2.05e-8,"H3":1.97e-8,"V1":5.8e-10,"V2":6.2e-10,"V3":5.7e-10},
      {"f":0.15,"H1":2.13e-8,"H2":2.38e-8,"H3":1.83e-8,"V1":5.4e-10,"V2":6.0e-10,"V3":5.1e-10},
      {"f":0.16667,"H1":1.73e-8,"H2":2.13e-8,"H3":1.6e-8,"V1":3.5e-10,"V2":4.1e-10,"V3":3.8e-10},
      {"f":0.18333,"H1":2.13e-8,"H2":2.08e-8,"H3":1.69e-8,"V1":2.57e-10,"V2":3.0e-10,"V3":3.05e-10},
      {"f":0.2,"H1":2.38e-8,"H2":2.08e-8,"H3":1.63e-8,"V1":2.29e-10,"V2":2.38e-10,"V3":2.57e-10},
      {"f":0.21667,"H1":2.2e-8,"H2":1.83e-8,"H3":1.6e-8,"V1":1.87e-10,"V2":1.83e-10,"V3":1.9e-10},
      {"f":0.23333,"H1":2.05e-8,"H2":1.51e-8,"H3":1.54e-8,"V1":1.7e-10,"V2":1.7e-10,"V3":1.68e-10},
      {"f":0.25,"H1":1.4e-8,"H2":1.12e-8,"H3":1.12e-8,"V1":1.4e-10,"V2":1.52e-10,"V3":1.6e-10},
      {"f":0.26667,"H1":8.3e-9,"H2":7.4e-9,"H3":7.1e-9,"V1":1.06e-10,"V2":1.17e-10,"V3":1.55e-10},
      {"f":0.28333,"H1":4.9e-9,"H2":4.5e-9,"H3":4.2e-9,"V1":1.1e-10,"V2":1.3e-10,"V3":1.56e-10},
      {"f":0.3,"H1":3.6e-9,"H2":3.5e-9,"H3":3.2e-9,"V1":1.3e-10,"V2":1.4e-10,"V3":1.5e-10},
      {"f":0.31667,"H1":2.75e-9,"H2":2.2e-9,"H3":1.9e-9,"V1":1.35e-10,"V2":1.46e-10,"V3":1.4e-10},
      {"f":0.33333,"H1":1.8e-9,"H2":1.8e-9,"H3":1.21e-9,"V1":1.35e-10,"V2":1.49e-10,"V3":1.4e-10},
      {"f":0.35,"H1":1.7e-9,"H2":1.83e-9,"H3":1.08e-9,"V1":1.4e-10,"V2":1.49e-10,"V3":1.4e-10},
      {"f":0.36667,"H1":1.08e-9,"H2":1.34e-9,"H3":8.6e-10,"V1":1.22e-10,"V2":1.46e-10,"V3":1.25e-10},
      {"f":0.38333,"H1":7.3e-10,"H2":7.8e-10,"H3":5.8e-10,"V1":1.2e-10,"V2":1.35e-10,"V3":1.15e-10},
      {"f":0.4,"H1":5.1e-10,"H2":5.1e-10,"H3":4.05e-10,"V1":1.22e-10,"V2":1.3e-10,"V3":1.12e-10},
      {"f":0.41667,"H1":3.6e-10,"H2":3.7e-10,"H3":2.77e-10,"V1":1.3e-10,"V2":1.3e-10,"V3":1.2e-10},
      {"f":0.43333,"H1":2.67e-10,"H2":2.77e-10,"H3":1.9e-10,"V1":1.4e-10,"V2":1.46e-10,"V3":1.4e-10},
      {"f":0.45,"H1":2.57e-10,"H2":2.95e-10,"H3":2.13e-10,"V1":1.4e-10,"V2":1.52e-10,"V3":1.43e-10},
      {"f":0.46667,"H1":3.0e-10,"H2":3.5e-10,"H3":2.38e-10,"V1":1.32e-10,"V2":1.46e-10,"V3":1.3e-10},
      {"f":0.48333,"H1":2.38e-10,"H2":3.3e-10,"H3":2.8e-10,"V1":9.6e-11,"V2":1.12e-10,"V3":9.3e-11},
      {"f":0.5,"H1":3.1e-10,"H2":2.57e-10,"H3":2.05e-10,"V1":8.6e-11,"V2":1.0e-10,"V3":8.3e-11},
      {"f":0.51667,"H1":2.67e-10,"H2":2.38e-10,"H3":1.87e-10,"V1":9.3e-11,"V2":1.12e-10,"V3":8.9e-11},
      {"f":0.53333,"H1":2.05e-10,"H2":2.29e-10,"H3":2.29e-10,"V1":8.6e-11,"V2":1.04e-10,"V3":9.6e-11},
      {"f":0.55,"H1":1.9e-10,"H2":1.83e-10,"H3":2.38e-10,"V1":9.6e-11,"V2":1.12e-10,"V3":1.04e-10},
      {"f":0.56667,"H1":1.64e-10,"H2":1.76e-10,"H3":1.9e-10,"V1":9.6e-11,"V2":1.08e-10,"V3":1.08e-10},
      {"f":0.58333,"H1":1.7e-10,"H2":1.9e-10,"H3":1.64e-10,"V1":1.0e-10,"V2":1.08e-10,"V3":1.0e-10},
      {"f":0.6,"H1":1.76e-10,"H2":1.83e-10,"H3":1.52e-10,"V1":8.3e-11,"V2":9.6e-11,"V3":8.9e-11},
      {"f":0.61667,"H1":1.52e-10,"H2":1.83e-10,"H3":1.35e-10,"V1":6.4e-11,"V2":6.6e-11,"V3":5.9e-11},
      {"f":0.63333,"H1":1.46e-10,"H2":1.64e-10,"H3":1.2e-10,"V1":5.9e-11,"V2":6.1e-11,"V3":5.3e-11},
      {"f":0.65,"H1":1.3e-10,"H2":1.52e-10,"H3":1.08e-10,"V1":5.3e-11,"V2":5.5e-11,"V3":5.7e-11},
      {"f":0.66667,"H1":1.35e-10,"H2":1.35e-10,"H3":9.6e-11,"V1":4.5e-11,"V2":5.7e-11,"V3":5.9e-11},
      {"f":0.68333,"H1":1.2e-10,"H2":1.2e-10,"H3":1.12e-10,"V1":4.3e-11,"V2":5.3e-11,"V3":5.5e-11},
      {"f":0.7,"H1":9.6e-11,"H2":1.08e-10,"H3":1.0e-10,"V1":4.5e-11,"V2":4.9e-11,"V3":5.1e-11},
      {"f":0.71667,"H1":1.08e-10,"H2":9.3e-11,"H3":8.0e-11,"V1":4.2e-11,"V2":4.7e-11,"V3":4.5e-11},
      {"f":0.73333,"H1":1.04e-10,"H2":1.12e-10,"H3":9.6e-11,"V1":3.6e-11,"V2":4.3e-11,"V3":5.1e-11},
      {"f":0.75,"H1":8.9e-11,"H2":9.3e-11,"H3":8.9e-11,"V1":3.35e-11,"V2":4.2e-11,"V3":4.5e-11},
      {"f":0.76667,"H1":9.6e-11,"H2":8.6e-11,"H3":8.0e-11,"V1":3.9e-11,"V2":3.9e-11,"V3":4.05e-11},
      {"f":0.78333,"H1":8.0e-11,"H2":8.3e-11,"H3":7.1e-11,"V1":3.9e-11,"V2":3.6e-11,"V3":3.6e-11},
      {"f":0.8,"H1":6.4e-11,"H2":7.7e-11,"H3":8.0e-11,"V1":3.1e-11,"V2":3.75e-11,"V3":3.9e-11},
      {"f":0.81667,"H1":7.1e-11,"H2":8.3e-11,"H3":7.1e-11,"V1":3.6e-11,"V2":3.45e-11,"V3":3.45e-11},
      {"f":0.83333,"H1":7.7e-11,"H2":6.9e-11,"H3":7.4e-11,"V1":3.9e-11,"V2":3.75e-11,"V3":3.35e-11},
      {"f":0.85,"H1":6.9e-11,"H2":7.4e-11,"H3":7.1e-11,"V1":3.75e-11,"V2":3.6e-11,"V3":3.75e-11},
      {"f":0.86667,"H1":8.3e-11,"H2":7.1e-11,"H3":8.0e-11,"V1":3.45e-11,"V2":3.35e-11,"V3":3.6e-11},
      {"f":0.88333,"H1":7.7e-11,"H2":7.7e-11,"H3":6.9e-11,"V1":3.6e-11,"V2":3.75e-11,"V3":3.45e-11},
      {"f":0.9,"H1":7.1e-11,"H2":8.0e-11,"H3":6.6e-11,"V1":3.75e-11,"V2":3.9e-11,"V3":3.2e-11},
      {"f":0.91667,"H1":7.4e-11,"H2":7.4e-11,"H3":7.4e-11,"V1":3.9e-11,"V2":3.6e-11,"V3":3.6e-11},
      {"f":0.93333,"H1":8.0e-11,"H2":8.0e-11,"H3":7.1e-11,"V1":3.75e-11,"V2":3.75e-11,"V3":3.6e-11},
      {"f":0.95,"H1":7.1e-11,"H2":7.7e-11,"H3":7.1e-11,"V1":3.75e-11,"V2":4.2e-11,"V3":3.35e-11},
      {"f":0.96667,"H1":6.9e-11,"H2":9.6e-11,"H3":7.4e-11,"V1":3.6e-11,"V2":4.05e-11,"V3":3.45e-11},
      {"f":0.98333,"H1":7.7e-11,"H2":8.9e-11,"H3":7.1e-11,"V1":3.75e-11,"V2":3.9e-11,"V3":3.75e-11},
      {"f":1.0,"H1":6.4e-11,"H2":8.6e-11,"H3":6.9e-11,"V1":3.6e-11,"V2":4.2e-11,"V3":3.35e-11},
      {"f":1.047,"H1":5.5e-11,"H2":6.5e-11,"H3":7.0e-11,"V1":4.0e-11,"V2":4.5e-11,"V3":3.5e-11},
      {"f":1.096,"H1":4.6e-11,"H2":5.0e-11,"H3":6.2e-11,"V1":3.6e-11,"V2":4.0e-11,"V3":3.0e-11},
      {"f":1.148,"H1":5.5e-11,"H2":4.6e-11,"H3":6.6e-11,"V1":4.2e-11,"V2":4.8e-11,"V3":3.4e-11},
      {"f":1.202,"H1":4.8e-11,"H2":5.6e-11,"H3":5.9e-11,"V1":3.7e-11,"V2":4.1e-11,"V3":3.0e-11},
      {"f":1.259,"H1":5.6e-11,"H2":4.8e-11,"H3":6.5e-11,"V1":4.3e-11,"V2":4.6e-11,"V3":3.6e-11},
      {"f":1.318,"H1":4.7e-11,"H2":5.4e-11,"H3":6.0e-11,"V1":3.6e-11,"V2":3.9e-11,"V3":2.3e-11},
      {"f":1.38,"H1":5.4e-11,"H2":4.6e-11,"H3":6.8e-11,"V1":4.4e-11,"V2":4.7e-11,"V3":3.2e-11},
      {"f":1.445,"H1":4.9e-11,"H2":5.6e-11,"H3":6.1e-11,"V1":3.7e-11,"V2":4.3e-11,"V3":3.5e-11},
      {"f":1.514,"H1":5.7e-11,"H2":4.9e-11,"H3":6.6e-11,"V1":4.2e-11,"V2":3.8e-11,"V3":2.3e-11},
      {"f":1.585,"H1":4.8e-11,"H2":5.5e-11,"H3":6.0e-11,"V1":3.6e-11,"V2":4.8e-11,"V3":3.4e-11},
      {"f":1.66,"H1":5.6e-11,"H2":4.7e-11,"H3":6.7e-11,"V1":4.3e-11,"V2":4.2e-11,"V3":3.1e-11},
      {"f":1.738,"H1":5.0e-11,"H2":5.7e-11,"H3":6.2e-11,"V1":3.8e-11,"V2":5.0e-11,"V3":3.7e-11},
      {"f":1.82,"H1":5.8e-11,"H2":4.9e-11,"H3":6.9e-11,"V1":4.5e-11,"V2":4.3e-11,"V3":3.3e-11},
      {"f":1.905,"H1":4.9e-11,"H2":5.5e-11,"H3":6.3e-11,"V1":3.9e-11,"V2":5.1e-11,"V3":3.8e-11},
      {"f":1.995,"H1":5.7e-11,"H2":4.8e-11,"H3":6.8e-11,"V1":4.6e-11,"V2":4.4e-11,"V3":3.5e-11},
      {"f":2.089,"H1":5.0e-11,"H2":5.6e-11,"H3":6.4e-11,"V1":4.0e-11,"V2":5.2e-11,"V3":3.9e-11},
      {"f":2.188,"H1":5.9e-11,"H2":5.0e-11,"H3":7.0e-11,"V1":4.7e-11,"V2":4.5e-11,"V3":3.6e-11},
      {"f":2.291,"H1":5.1e-11,"H2":5.7e-11,"H3":6.3e-11,"V1":4.1e-11,"V2":5.3e-11,"V3":3.8e-11},
      {"f":2.399,"H1":5.8e-11,"H2":4.9e-11,"H3":6.9e-11,"V1":4.6e-11,"V2":4.4e-11,"V3":3.3e-11},
      {"f":2.512,"H1":5.0e-11,"H2":5.6e-11,"H3":6.4e-11,"V1":4.0e-11,"V2":5.0e-11,"V3":2.7e-11},
      {"f":2.63,"H1":5.9e-11,"H2":5.0e-11,"H3":7.0e-11,"V1":4.5e-11,"V2":4.3e-11,"V3":3.5e-11},
      {"f":2.754,"H1":5.2e-11,"H2":5.8e-11,"H3":6.5e-11,"V1":3.9e-11,"V2":5.2e-11,"V3":3.9e-11},
      {"f":2.884,"H1":6.0e-11,"H2":5.1e-11,"H3":7.2e-11,"V1":4.6e-11,"V2":4.5e-11,"V3":3.7e-11},
      {"f":3.02,"H1":5.1e-11,"H2":5.7e-11,"H3":6.8e-11,"V1":4.0e-11,"V2":5.3e-11,"V3":4.2e-11},
      {"f":3.162,"H1":5.8e-11,"H2":5.0e-11,"H3":7.6e-11,"V1":4.6e-11,"V2":4.2e-11,"V3":3.9e-11},
      {"f":3.311,"H1":5.2e-11,"H2":5.9e-11,"H3":7.0e-11,"V1":3.9e-11,"V2":5.0e-11,"V3":4.4e-11},
      {"f":3.467,"H1":6.0e-11,"H2":5.1e-11,"H3":7.8e-11,"V1":4.7e-11,"V2":3.8e-11,"V3":4.0e-11},
      {"f":3.631,"H1":5.1e-11,"H2":5.8e-11,"H3":7.1e-11,"V1":3.8e-11,"V2":4.9e-11,"V3":4.5e-11},
      {"f":3.802,"H1":5.9e-11,"H2":5.0e-11,"H3":7.9e-11,"V1":4.5e-11,"V2":3.7e-11,"V3":4.1e-11},
      {"f":3.981,"H1":5.2e-11,"H2":5.9e-11,"H3":7.2e-11,"V1":3.6e-11,"V2":4.8e-11,"V3":4.6e-11},
      {"f":4.169,"H1":6.0e-11,"H2":5.1e-11,"H3":8.0e-11,"V1":4.6e-11,"V2":3.9e-11,"V3":4.2e-11},
      {"f":4.365,"H1":5.1e-11,"H2":5.8e-11,"H3":7.3e-11,"V1":3.7e-11,"V2":4.9e-11,"V3":4.7e-11},
      {"f":4.571,"H1":5.9e-11,"H2":5.2e-11,"H3":8.1e-11,"V1":4.5e-11,"V2":4.0e-11,"V3":4.3e-11},
      {"f":4.786,"H1":5.2e-11,"H2":5.9e-11,"H3":7.4e-11,"V1":3.8e-11,"V2":5.0e-11,"V3":4.8e-11},
      {"f":5.012,"H1":6.0e-11,"H2":5.3e-11,"H3":8.3e-11,"V1":4.6e-11,"V2":4.1e-11,"V3":4.4e-11},
      {"f":5.248,"H1":5.3e-11,"H2":6.0e-11,"H3":7.6e-11,"V1":3.9e-11,"V2":5.1e-11,"V3":4.9e-11},
      {"f":5.495,"H1":6.1e-11,"H2":6.5e-11,"H3":2.1e-10,"V1":7.5e-11,"V2":5.5e-11,"V3":8.0e-11},
      {"f":5.754,"H1":5.4e-11,"H2":5.6e-11,"H3":9.0e-11,"V1":4.0e-11,"V2":4.6e-11,"V3":4.5e-11},
      {"f":6.026,"H1":6.2e-11,"H2":7.5e-11,"H3":1.4e-10,"V1":4.8e-11,"V2":5.8e-11,"V3":5.2e-11},
      {"f":6.31,"H1":5.5e-11,"H2":6.0e-11,"H3":1.2e-10,"V1":4.2e-11,"V2":5.0e-11,"V3":4.7e-11},
      {"f":6.607,"H1":6.4e-11,"H2":8.0e-11,"H3":1.5e-10,"V1":5.0e-11,"V2":6.0e-11,"V3":5.4e-11},
      {"f":6.918,"H1":5.6e-11,"H2":6.2e-11,"H3":1.2e-10,"V1":4.3e-11,"V2":5.2e-11,"V3":4.8e-11},
      {"f":7.244,"H1":7.5e-11,"H2":9.0e-11,"H3":3.2e-10,"V1":1.1e-10,"V2":8.5e-11,"V3":7.0e-11},
      {"f":7.586,"H1":6.5e-11,"H2":8.5e-11,"H3":3.0e-10,"V1":7.0e-11,"V2":1.0e-10,"V3":6.0e-11},
      {"f":7.943,"H1":6.0e-11,"H2":7.0e-11,"H3":1.3e-10,"V1":5.0e-11,"V2":6.5e-11,"V3":5.3e-11},
      {"f":8.318,"H1":5.6e-11,"H2":6.4e-11,"H3":1.1e-10,"V1":4.4e-11,"V2":7.5e-11,"V3":4.9e-11},
      {"f":8.71,"H1":6.2e-11,"H2":6.8e-11,"H3":1.25e-10,"V1":5.2e-11,"V2":5.5e-11,"V3":5.5e-11},
      {"f":9.12,"H1":5.2e-11,"H2":5.6e-11,"H3":1.0e-10,"V1":4.4e-11,"V2":6.5e-11,"V3":4.8e-11},
      {"f":9.55,"H1":5.8e-11,"H2":6.2e-11,"H3":1.15e-10,"V1":5.4e-11,"V2":5.2e-11,"V3":5.6e-11},
      {"f":10.0,"H1":4.8e-11,"H2":5.0e-11,"H3":9.0e-11,"V1":4.5e-11,"V2":6.0e-11,"V3":4.9e-11},
      {"f":10.47,"H1":4.0e-11,"H2":4.6e-11,"H3":1.0e-10,"V1":5.2e-11,"V2":5.0e-11,"V3":5.8e-11},
      {"f":10.96,"H1":4.6e-11,"H2":3.8e-11,"H3":7.5e-11,"V1":4.4e-11,"V2":6.2e-11,"V3":4.6e-11},
      {"f":11.48,"H1":3.6e-11,"H2":4.4e-11,"H3":9.8e-11,"V1":5.3e-11,"V2":5.6e-11,"V3":6.0e-11},
      {"f":12.02,"H1":4.4e-11,"H2":3.5e-11,"H3":7.0e-11,"V1":4.2e-11,"V2":7.0e-11,"V3":5.0e-11},
      {"f":12.59,"H1":3.5e-11,"H2":4.6e-11,"H3":1.0e-10,"V1":6.0e-11,"V2":2.3e-10,"V3":1.3e-10},
      {"f":13.18,"H1":4.5e-11,"H2":3.4e-11,"H3":7.2e-11,"V1":4.0e-11,"V2":6.5e-11,"V3":5.0e-11},
      {"f":13.8,"H1":3.4e-11,"H2":4.3e-11,"H3":9.5e-11,"V1":5.0e-11,"V2":1.0e-10,"V3":7.5e-11},
      {"f":14.45,"H1":4.2e-11,"H2":3.3e-11,"H3":7.0e-11,"V1":3.9e-11,"V2":6.0e-11,"V3":4.6e-11},
      {"f":15.14,"H1":3.3e-11,"H2":4.2e-11,"H3":1.0e-10,"V1":5.2e-11,"V2":1.2e-10,"V3":9.0e-11},
      {"f":15.85,"H1":4.3e-11,"H2":3.2e-11,"H3":7.2e-11,"V1":4.0e-11,"V2":7.0e-11,"V3":5.2e-11},
      {"f":16.6,"H1":3.4e-11,"H2":4.4e-11,"H3":9.8e-11,"V1":6.0e-11,"V2":2.7e-10,"V3":2.2e-10},
      {"f":17.38,"H1":4.4e-11,"H2":3.3e-11,"H3":7.4e-11,"V1":4.5e-11,"V2":1.3e-10,"V3":9.0e-11},
      {"f":18.2,"H1":3.3e-11,"H2":4.2e-11,"H3":1.0e-10,"V1":6.5e-11,"V2":2.0e-10,"V3":1.7e-10},
      {"f":19.05,"H1":4.2e-11,"H2":3.2e-11,"H3":7.0e-11,"V1":4.2e-11,"V2":7.5e-11,"V3":6.0e-11},
      {"f":19.95,"H1":3.2e-11,"H2":4.3e-11,"H3":9.6e-11,"V1":5.5e-11,"V2":1.5e-10,"V3":1.1e-10},
      {"f":20.89,"H1":4.3e-11,"H2":3.1e-11,"H3":7.2e-11,"V1":3.8e-11,"V2":8.0e-11,"V3":1.4e-10},
      {"f":21.88,"H1":3.3e-11,"H2":4.4e-11,"H3":1.0e-10,"V1":5.3e-11,"V2":1.4e-10,"V3":6.5e-11},
      {"f":22.91,"H1":4.4e-11,"H2":3.2e-11,"H3":6.8e-11,"V1":3.6e-11,"V2":6.0e-11,"V3":3.6e-11},
      {"f":23.99,"H1":3.1e-11,"H2":4.6e-11,"H3":9.8e-11,"V1":5.5e-11,"V2":1.6e-10,"V3":6.4e-11},
      {"f":25.12,"H1":4.5e-11,"H2":3.0e-11,"H3":6.6e-11,"V1":3.4e-11,"V2":5.8e-11,"V3":3.5e-11},
      {"f":26.3,"H1":3.0e-11,"H2":4.8e-11,"H3":1.0e-10,"V1":5.4e-11,"V2":3.0e-11,"V3":6.5e-11},
      {"f":27.54,"H1":4.6e-11,"H2":3.0e-11,"H3":6.5e-11,"V1":3.2e-11,"V2":5.8e-11,"V3":4.3e-10},
      {"f":28.84,"H1":2.9e-11,"H2":4.9e-11,"H3":9.8e-11,"V1":5.5e-11,"V2":3.0e-11,"V3":3.4e-11},
      {"f":30.2,"H1":4.8e-11,"H2":2.9e-11,"H3":6.4e-11,"V1":3.1e-11,"V2":6.0e-11,"V3":3.5e-10},
      {"f":30.9,"H1":2.9e-11,"H2":5.0e-11,"H3":1.0e-10,"V1":3.1e-11,"V2":6.0e-11,"V3":3.3e-11},
      {"f":31.62,"H1":4.9e-11,"H2":2.8e-11,"H3":5.6e-11,"V1":5.4e-11,"V2":2.9e-11,"V3":6.5e-11},
      {"f":32.36,"H1":3.0e-11,"H2":4.8e-11,"H3":9.5e-11,"V1":3.2e-11,"V2":5.8e-11,"V3":3.4e-11},
      {"f":33.11,"H1":4.7e-11,"H2":2.9e-11,"H3":5.8e-11,"V1":5.2e-11,"V2":3.0e-11,"V3":6.3e-11},
      {"f":33.88,"H1":2.8e-11,"H2":5.1e-11,"H3":1.0e-10,"V1":3.0e-11,"V2":6.1e-11,"V3":3.3e-11},
      {"f":34.67,"H1":4.8e-11,"H2":2.7e-11,"H3":5.5e-11,"V1":5.5e-11,"V2":2.8e-11,"V3":6.6e-11},
      {"f":35.48,"H1":2.9e-11,"H2":5.0e-11,"H3":1.0e-10,"V1":3.1e-11,"V2":6.0e-11,"V3":3.3e-11},
      {"f":36.31,"H1":4.9e-11,"H2":2.8e-11,"H3":5.6e-11,"V1":5.4e-11,"V2":2.9e-11,"V3":6.5e-11},
      {"f":37.15,"H1":3.0e-11,"H2":4.8e-11,"H3":9.5e-11,"V1":3.2e-11,"V2":5.8e-11,"V3":3.4e-11},
      {"f":38.02,"H1":4.7e-11,"H2":2.9e-11,"H3":5.8e-11,"V1":5.2e-11,"V2":3.0e-11,"V3":6.3e-11},
      {"f":38.9,"H1":2.8e-11,"H2":5.1e-11,"H3":1.0e-10,"V1":3.0e-11,"V2":6.1e-11,"V3":3.3e-11},
      {"f":39.81,"H1":4.8e-11,"H2":2.7e-11,"H3":5.5e-11,"V1":5.5e-11,"V2":2.8e-11,"V3":6.6e-11},
      {"f":40.74,"H1":2.9e-11,"H2":5.0e-11,"H3":1.0e-10,"V1":3.1e-11,"V2":6.0e-11,"V3":3.3e-11},
      {"f":41.69,"H1":4.9e-11,"H2":2.8e-11,"H3":5.6e-11,"V1":5.4e-11,"V2":2.9e-11,"V3":6.5e-11},
      {"f":42.66,"H1":3.0e-11,"H2":4.8e-11,"H3":9.5e-11,"V1":3.2e-11,"V2":5.8e-11,"V3":3.4e-11},
      {"f":43.65,"H1":4.7e-11,"H2":2.9e-11,"H3":5.8e-11,"V1":5.2e-11,"V2":3.0e-11,"V3":6.3e-11},
      {"f":44.67,"H1":2.8e-11,"H2":5.1e-11,"H3":1.0e-10,"V1":3.0e-11,"V2":6.1e-11,"V3":3.3e-11},
      {"f":45.71,"H1":4.8e-11,"H2":2.7e-11,"H3":5.5e-11,"V1":5.5e-11,"V2":2.8e-11,"V3":6.6e-11},
      {"f":46.77,"H1":2.9e-11,"H2":5.0e-11,"H3":1.0e-10,"V1":3.1e-11,"V2":6.0e-11,"V3":3.3e-11},
      {"f":47.86,"H1":4.9e-11,"H2":2.8e-11,"H3":5.6e-11,"V1":5.4e-11,"V2":2.9e-11,"V3":6.5e-11},
      {"f":48.98,"H1":3.0e-11,"H2":4.8e-11,"H3":9.5e-11,"V1":3.2e-11,"V2":5.8e-11,"V3":3.4e-11},
      {"f":50.12,"H1":4.7e-11,"H2":2.9e-11,"H3":5.8e-11,"V1":5.2e-11,"V2":3.0e-11,"V3":6.3e-11},
      {"f":51.29,"H1":2.8e-11,"H2":5.1e-11,"H3":1.0e-10,"V1":3.0e-11,"V2":6.1e-11,"V3":3.3e-11},
      {"f":52.48,"H1":4.8e-11,"H2":2.7e-11,"H3":5.5e-11,"V1":5.5e-11,"V2":2.8e-11,"V3":6.6e-11},
      {"f":53.7,"H1":2.9e-11,"H2":5.0e-11,"H3":1.0e-10,"V1":3.1e-11,"V2":6.0e-11,"V3":3.3e-11},
      {"f":54.95,"H1":4.9e-11,"H2":2.8e-11,"H3":5.6e-11,"V1":5.4e-11,"V2":2.9e-11,"V3":6.5e-11},
      {"f":56.23,"H1":3.0e-11,"H2":4.8e-11,"H3":9.5e-11,"V1":3.2e-11,"V2":5.8e-11,"V3":3.4e-11},
      {"f":57.54,"H1":4.7e-11,"H2":2.9e-11,"H3":5.8e-11,"V1":5.2e-11,"V2":3.0e-11,"V3":6.3e-11},
      {"f":58.88,"H1":2.8e-11,"H2":5.1e-11,"H3":1.0e-10,"V1":3.0e-11,"V2":6.1e-11,"V3":3.3e-11},
      {"f":60.26,"H1":4.0e-11,"H2":6.0e-11,"H3":1.0e-10,"V1":6.0e-11,"V2":1.0e-10,"V3":4.0e-10},
      {"f":61.66,"H1":2.9e-11,"H2":5.0e-11,"H3":1.0e-10,"V1":3.1e-11,"V2":6.0e-11,"V3":3.3e-11},
      {"f":63.1,"H1":4.9e-11,"H2":2.8e-11,"H3":5.6e-11,"V1":5.4e-11,"V2":2.9e-11,"V3":6.5e-11},
      {"f":64.57,"H1":3.0e-11,"H2":4.8e-11,"H3":9.5e-11,"V1":3.2e-11,"V2":5.8e-11,"V3":3.4e-11},
      {"f":66.07,"H1":4.7e-11,"H2":2.9e-11,"H3":5.8e-11,"V1":5.2e-11,"V2":3.0e-11,"V3":6.3e-11},
      {"f":67.61,"H1":2.8e-11,"H2":5.1e-11,"H3":1.0e-10,"V1":3.0e-11,"V2":6.1e-11,"V3":3.3e-11},
      {"f":69.18,"H1":4.8e-11,"H2":2.7e-11,"H3":5.5e-11,"V1":5.5e-11,"V2":2.8e-11,"V3":6.6e-11},
      {"f":70.79,"H1":2.9e-11,"H2":5.0e-11,"H3":1.0e-10,"V1":3.1e-11,"V2":6.0e-11,"V3":3.3e-11},
      {"f":72.44,"H1":4.9e-11,"H2":2.8e-11,"H3":5.6e-11,"V1":5.4e-11,"V2":2.9e-11,"V3":6.5e-11},
      {"f":74.13,"H1":3.0e-11,"H2":4.8e-11,"H3":9.5e-11,"V1":3.2e-11,"V2":5.8e-11,"V3":3.4e-11},
      {"f":75.86,"H1":4.7e-11,"H2":2.9e-11,"H3":5.8e-11,"V1":5.2e-11,"V2":3.0e-11,"V3":6.3e-11},
      {"f":77.62,"H1":2.8e-11,"H2":5.1e-11,"H3":1.0e-10,"V1":3.0e-11,"V2":6.1e-11,"V3":3.3e-11},
      {"f":79.43,"H1":4.8e-11,"H2":2.7e-11,"H3":5.5e-11,"V1":5.5e-11,"V2":2.8e-11,"V3":6.6e-11},
      {"f":81.28,"H1":2.9e-11,"H2":5.0e-11,"H3":1.0e-10,"V1":3.1e-11,"V2":6.0e-11,"V3":3.3e-11},
      {"f":83.18,"H1":4.9e-11,"H2":2.8e-11,"H3":5.6e-11,"V1":5.4e-11,"V2":2.9e-11,"V3":6.5e-11},
      {"f":85.11,"H1":3.0e-11,"H2":4.8e-11,"H3":9.5e-11,"V1":3.2e-11,"V2":5.8e-11,"V3":3.4e-11},
      {"f":87.1,"H1":4.7e-11,"H2":2.9e-11,"H3":5.8e-11,"V1":5.2e-11,"V2":3.0e-11,"V3":6.3e-11},
      {"f":89.13,"H1":2.8e-11,"H2":5.1e-11,"H3":1.0e-10,"V1":3.0e-11,"V2":6.1e-11,"V3":3.3e-11},
      {"f":91.2,"H1":4.8e-11,"H2":2.7e-11,"H3":5.5e-11,"V1":5.5e-11,"V2":2.8e-11,"V3":6.6e-11},
      {"f":93.33,"H1":2.9e-11,"H2":5.0e-11,"H3":1.0e-10,"V1":3.1e-11,"V2":6.0e-11,"V3":3.3e-11},
      {"f":95.5,"H1":4.9e-11,"H2":2.8e-11,"H3":5.6e-11,"V1":5.4e-11,"V2":2.9e-11,"V3":6.5e-11},
      {"f":97.72,"H1":3.0e-11,"H2":4.8e-11,"H3":9.5e-11,"V1":3.2e-11,"V2":5.8e-11,"V3":3.4e-11},
      {"f":100.0,"H1":4.7e-11,"H2":2.9e-11,"H3":5.8e-11,"V1":5.2e-11,"V2":3.0e-11,"V3":6.3e-11},
      {"f":102.3,"H1":2.8e-11,"H2":5.1e-11,"H3":1.0e-10,"V1":3.0e-11,"V2":6.1e-11,"V3":3.3e-11},
      {"f":104.7,"H1":4.8e-11,"H2":2.7e-11,"H3":5.5e-11,"V1":5.5e-11,"V2":2.8e-11,"V3":6.6e-11},
      {"f":107.2,"H1":2.9e-11,"H2":5.0e-11,"H3":1.0e-10,"V1":3.1e-11,"V2":6.0e-11,"V3":3.3e-11},
      {"f":109.6,"H1":4.9e-11,"H2":2.8e-11,"H3":5.6e-11,"V1":5.4e-11,"V2":2.9e-11,"V3":8.5e-11},
      {"f":112.2,"H1":3.0e-11,"H2":4.8e-11,"H3":9.5e-11,"V1":3.2e-11,"V2":5.8e-11,"V3":3.4e-11},
      {"f":114.8,"H1":4.7e-11,"H2":2.9e-11,"H3":5.8e-11,"V1":5.2e-11,"V2":3.0e-11,"V3":6.3e-11},
      {"f":117.5,"H1":2.8e-11,"H2":5.1e-11,"H3":1.0e-10,"V1":3.0e-11,"V2":6.1e-11,"V3":3.3e-11},
      {"f":120.2,"H1":4.8e-11,"H2":2.7e-11,"H3":5.5e-11,"V1":5.5e-11,"V2":2.8e-11,"V3":6.6e-11},
      {"f":123.0,"H1":2.9e-11,"H2":5.0e-11,"H3":1.0e-10,"V1":5.6e-11,"V2":6.0e-11,"V3":3.3e-11},
      {"f":125.9,"H1":4.9e-11,"H2":2.8e-11,"H3":5.6e-11,"V1":7.0e-11,"V2":2.9e-11,"V3":8.5e-11},
      {"f":128.8,"H1":3.0e-11,"H2":4.8e-11,"H3":9.5e-11,"V1":5.6e-11,"V2":5.8e-11,"V3":3.4e-11},
      {"f":131.8,"H1":4.7e-11,"H2":2.9e-11,"H3":5.8e-11,"V1":7.0e-11,"V2":3.0e-11,"V3":6.3e-11},
      {"f":134.9,"H1":2.8e-11,"H2":5.1e-11,"H3":1.0e-10,"V1":5.5e-11,"V2":6.1e-11,"V3":3.3e-11},
      {"f":138.0,"H1":4.8e-11,"H2":2.7e-11,"H3":5.5e-11,"V1":7.1e-11,"V2":2.8e-11,"V3":6.6e-11},
      {"f":141.3,"H1":2.9e-11,"H2":5.0e-11,"H3":1.0e-10,"V1":5.6e-11,"V2":6.0e-11,"V3":3.3e-11},
      {"f":144.5,"H1":4.9e-11,"H2":2.8e-11,"H3":5.6e-11,"V1":7.0e-11,"V2":2.9e-11,"V3":6.5e-11},
      {"f":147.9,"H1":3.0e-11,"H2":4.8e-11,"H3":9.5e-11,"V1":5.6e-11,"V2":5.8e-11,"V3":3.4e-11},
      {"f":151.4,"H1":4.7e-11,"H2":2.9e-11,"H3":5.8e-11,"V1":6.9e-11,"V2":3.0e-11,"V3":6.3e-11},
      {"f":154.9,"H1":2.8e-11,"H2":5.1e-11,"H3":1.0e-10,"V1":5.5e-11,"V2":6.1e-11,"V3":3.3e-11},
      {"f":158.5,"H1":4.8e-11,"H2":2.7e-11,"H3":5.5e-11,"V1":7.2e-11,"V2":2.8e-11,"V3":6.6e-11},
      {"f":162.2,"H1":2.9e-11,"H2":5.0e-11,"H3":1.0e-10,"V1":5.6e-11,"V2":6.0e-11,"V3":3.3e-11},
      {"f":166.0,"H1":4.9e-11,"H2":2.8e-11,"H3":5.6e-11,"V1":7.0e-11,"V2":2.9e-11,"V3":6.5e-11},
      {"f":169.8,"H1":3.0e-11,"H2":4.8e-11,"H3":9.5e-11,"V1":5.6e-11,"V2":5.8e-11,"V3":3.4e-11},
      {"f":173.8,"H1":4.7e-11,"H2":2.9e-11,"H3":5.8e-11,"V1":7.0e-11,"V2":3.0e-11,"V3":6.3e-11},
      {"f":177.8,"H1":2.8e-11,"H2":5.1e-11,"H3":1.0e-10,"V1":5.5e-11,"V2":6.1e-11,"V3":3.3e-11},
      {"f":182.0,"H1":3.5e-11,"H2":5.0e-11,"H3":1.0e-10,"V1":6.0e-11,"V2":6.0e-11,"V3":4.0e-10},
      {"f":186.2,"H1":2.9e-11,"H2":5.0e-11,"H3":1.0e-10,"V1":5.6e-11,"V2":6.0e-11,"V3":3.3e-11},
      {"f":190.5,"H1":4.9e-11,"H2":2.8e-11,"H3":5.6e-11,"V1":7.0e-11,"V2":2.9e-11,"V3":6.5e-11},
      {"f":195.0,"H1":3.0e-11,"H2":4.8e-11,"H3":9.5e-11,"V1":5.6e-11,"V2":5.8e-11,"V3":3.4e-11},
      {"f":199.5,"H1":4.7e-11,"H2":2.9e-11,"H3":5.8e-11,"V1":7.0e-11,"V2":3.0e-11,"V3":6.3e-11}
    ],
    "ade1": [
      {"f":0.01,"v":2.5e-9,"ch":"ADE"},
      {"f":0.1,"v":5.0e-10,"ch":"ADE"},
      {"f":0.7,"v":2.0e-10,"ch":"ADE"},
      {"f":100,"v":2.0e-10,"ch":"ADE"}
    ],
    "ade2": [
      {"f":0.01,"v":7.5e-10,"ch":"ADE"},
      {"f":0.1,"v":1.5e-10,"ch":"ADE"},
      {"f":0.7,"v":6.0e-11,"ch":"ADE"},
      {"f":100,"v":6.0e-11,"ch":"ADE"}
    ]
  },
  "vconcat": [
    {
      "title": {
        "text": "/opt/rtcds/userapps/trunk/sys/h1/scripts/BSC_cps_spectra.py",
        "orient": "right", "angle": -90, "anchor": "middle",
        "fontSize": 16.5, "font": "DejaVu Sans", "fontWeight": "normal",
        "offset": 100, "dx": -62, "color": "black"
      },
      "spacing": 28,
      "resolve": {
        "scale": {"color": "independent", "x": "independent", "y": "independent"},
        "legend": {"color": "independent"}
      },
      "vconcat": [
        {
          "title": {"text": "ITMX_ST1", "fontSize": 27.5, "font": "DejaVu Sans", "fontWeight": "normal", "offset": -8, "anchor": "middle", "color": "black"},
          "width": 1860,
          "height": 582,
          "layer": [
            {
              "data": {"name": "st1"},
              "transform": [{"fold": ["H1", "H2", "H3", "V1", "V2", "V3"], "as": ["ch", "v"]}],
              "mark": {"type": "line", "strokeWidth": 3.5, "clip": true},
              "encoding": {
                "x": {
                  "field": "f", "type": "quantitative", "title": "Freq (hz)",
                  "scale": {"type": "log", "domain": [0.01, 200], "nice": false},
                  "axis": {
                    "values": [0.01,0.02,0.03,0.04,0.05,0.06,0.07,0.08,0.09,0.1,0.2,0.3,0.4,0.5,0.6,0.7,0.8,0.9,1,2,3,4,5,6,7,8,9,10,20,30,40,50,60,70,80,90,100,200],
                    "labelExpr": "abs(log(datum.value)/LN10 - round(log(datum.value)/LN10)) < 0.01 ? '10' + replace(replace(replace(replace(replace(replace(replace(replace(replace(replace(replace('' + round(log(datum.value)/LN10), '-', '⁻'), regexp('0','g'), '⁰'), regexp('1','g'), '¹'), regexp('2','g'), '²'), regexp('3','g'), '³'), regexp('4','g'), '⁴'), regexp('5','g'), '⁵'), regexp('6','g'), '⁶'), regexp('7','g'), '⁷'), regexp('8','g'), '⁸'), regexp('9','g'), '⁹') : ''"
                  }
                },
                "y": {
                  "field": "v", "type": "quantitative", "title": "m/rthz",
                  "scale": {"type": "log", "domain": [1e-11, 1e-7], "nice": false},
                  "axis": {
                    "values": [1e-11,2e-11,3e-11,4e-11,5e-11,6e-11,7e-11,8e-11,9e-11,1e-10,2e-10,3e-10,4e-10,5e-10,6e-10,7e-10,8e-10,9e-10,1e-9,2e-9,3e-9,4e-9,5e-9,6e-9,7e-9,8e-9,9e-9,1e-8,2e-8,3e-8,4e-8,5e-8,6e-8,7e-8,8e-8,9e-8,1e-7],
                    "labelExpr": "abs(log(datum.value)/LN10 - round(log(datum.value)/LN10)) < 0.01 ? '10' + replace(replace(replace(replace(replace(replace(replace(replace(replace(replace(replace('' + round(log(datum.value)/LN10), '-', '⁻'), regexp('0','g'), '⁰'), regexp('1','g'), '¹'), regexp('2','g'), '²'), regexp('3','g'), '³'), regexp('4','g'), '⁴'), regexp('5','g'), '⁵'), regexp('6','g'), '⁶'), regexp('7','g'), '⁷'), regexp('8','g'), '⁸'), regexp('9','g'), '⁹') : ''"
                  }
                },
                "color": {
                  "field": "ch", "type": "nominal",
                  "scale": {"domain": ["H1", "H2", "H3", "V1", "V2", "V3", "ADE"], "range": ["#0000ff", "#008000", "#ff0000", "#00bfbf", "#bf00bf", "#bfbf00", "#000000"]},
                  "legend": {"labelExpr": "datum.label == 'ADE' ? 'ADE 1mm noise' : 'ITMX_ST1_CPSINF_' + datum.label"}
                }
              }
            },
            {
              "data": {"name": "ade1"},
              "mark": {"type": "line", "strokeWidth": 5},
              "encoding": {
                "x": {"field": "f", "type": "quantitative"},
                "y": {"field": "v", "type": "quantitative"},
                "color": {"field": "ch", "type": "nominal"}
              }
            }
          ]
        },
        {
          "title": {"text": "ITMX_ST2", "fontSize": 27.5, "font": "DejaVu Sans", "fontWeight": "normal", "offset": -8, "anchor": "middle", "color": "black"},
          "width": 1860,
          "height": 582,
          "layer": [
            {
              "data": {"name": "st2"},
              "transform": [{"fold": ["H1", "H2", "H3", "V1", "V2", "V3"], "as": ["ch", "v"]}],
              "mark": {"type": "line", "strokeWidth": 3.5, "clip": true},
              "encoding": {
                "x": {
                  "field": "f", "type": "quantitative", "title": "Freq (hz)",
                  "scale": {"type": "log", "domain": [0.01, 200], "nice": false},
                  "axis": {
                    "values": [0.01,0.02,0.03,0.04,0.05,0.06,0.07,0.08,0.09,0.1,0.2,0.3,0.4,0.5,0.6,0.7,0.8,0.9,1,2,3,4,5,6,7,8,9,10,20,30,40,50,60,70,80,90,100,200],
                    "labelExpr": "abs(log(datum.value)/LN10 - round(log(datum.value)/LN10)) < 0.01 ? '10' + replace(replace(replace(replace(replace(replace(replace(replace(replace(replace(replace('' + round(log(datum.value)/LN10), '-', '⁻'), regexp('0','g'), '⁰'), regexp('1','g'), '¹'), regexp('2','g'), '²'), regexp('3','g'), '³'), regexp('4','g'), '⁴'), regexp('5','g'), '⁵'), regexp('6','g'), '⁶'), regexp('7','g'), '⁷'), regexp('8','g'), '⁸'), regexp('9','g'), '⁹') : ''"
                  }
                },
                "y": {
                  "field": "v", "type": "quantitative", "title": "m/rthz",
                  "scale": {"type": "log", "domain": [1e-12, 1e-7], "nice": false},
                  "axis": {
                    "values": [1e-12,2e-12,3e-12,4e-12,5e-12,6e-12,7e-12,8e-12,9e-12,1e-11,2e-11,3e-11,4e-11,5e-11,6e-11,7e-11,8e-11,9e-11,1e-10,2e-10,3e-10,4e-10,5e-10,6e-10,7e-10,8e-10,9e-10,1e-9,2e-9,3e-9,4e-9,5e-9,6e-9,7e-9,8e-9,9e-9,1e-8,2e-8,3e-8,4e-8,5e-8,6e-8,7e-8,8e-8,9e-8,1e-7],
                    "labelExpr": "abs(log(datum.value)/LN10 - round(log(datum.value)/LN10)) < 0.01 ? '10' + replace(replace(replace(replace(replace(replace(replace(replace(replace(replace(replace('' + round(log(datum.value)/LN10), '-', '⁻'), regexp('0','g'), '⁰'), regexp('1','g'), '¹'), regexp('2','g'), '²'), regexp('3','g'), '³'), regexp('4','g'), '⁴'), regexp('5','g'), '⁵'), regexp('6','g'), '⁶'), regexp('7','g'), '⁷'), regexp('8','g'), '⁸'), regexp('9','g'), '⁹') : ''"
                  }
                },
                "color": {
                  "field": "ch", "type": "nominal",
                  "scale": {"domain": ["H1", "H2", "H3", "V1", "V2", "V3", "ADE"], "range": ["#0000ff", "#008000", "#ff0000", "#00bfbf", "#bf00bf", "#bfbf00", "#000000"]},
                  "legend": {"labelExpr": "datum.label == 'ADE' ? 'ADE .25mm noise' : 'ITMX_ST2_CPSINF_' + datum.label"}
                }
              }
            },
            {
              "data": {"name": "ade2"},
              "mark": {"type": "line", "strokeWidth": 5},
              "encoding": {
                "x": {"field": "f", "type": "quantitative"},
                "y": {"field": "v", "type": "quantitative"},
                "color": {"field": "ch", "type": "nominal"}
              }
            }
          ]
        }
      ]
    }
  ],
  "config": {
    "font": "DejaVu Sans",
    "view": {"stroke": "black", "strokeWidth": 1.5},
    "axis": {
      "domain": false,
      "ticks": false,
      "grid": true,
      "gridColor": "#000000",
      "gridDash": [2, 4],
      "gridWidth": 1,
      "gridOpacity": 0.85,
      "labelFont": "DejaVu Sans",
      "labelFontSize": 18,
      "labelColor": "black",
      "labelOverlap": false,
      "labelFlush": false,
      "labelBound": false,
      "titleFont": "DejaVu Sans",
      "titleFontSize": 25,
      "titleFontWeight": "normal",
      "titleColor": "black"
    },
    "axisX": {"labelPadding": 8, "titlePadding": 6},
    "axisY": {"labelPadding": 6, "titlePadding": 4},
    "legend": {
      "title": null,
      "orient": "top-right",
      "offset": 14,
      "padding": 4,
      "symbolOffset": 14,
      "strokeColor": "black",
      "strokeWidth": 1.5,
      "fillColor": "white",
      "cornerRadius": 0,
      "labelFont": "DejaVu Sans",
      "labelFontSize": 27.5,
      "labelColor": "black",
      "labelLimit": 0,
      "labelOffset": 23,
      "symbolType": "stroke",
      "symbolStrokeWidth": 4,
      "symbolSize": 2100,
      "rowPadding": 4,
      "labelBaseline": "middle"
    }
  }
}
